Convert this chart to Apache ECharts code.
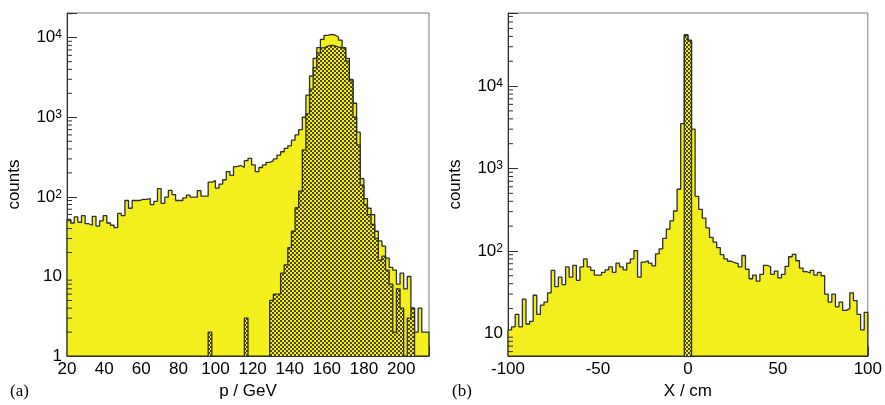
<!DOCTYPE html>
<html>
<head>
<meta charset="utf-8">
<script src="https://cdn.jsdelivr.net/npm/echarts@6/dist/echarts.min.js"></script>
<style>
  html, body { margin: 0; padding: 0; background: #fff; }
  #chart { width: 885px; height: 405px; }
</style>
</head>
<body>
<div id="chart"></div>
<script>
var FONT = '"Liberation Sans", Arial, Helvetica, sans-serif';
var SERIF = '"Liberation Serif", "Times New Roman", serif';
var INK = '#2e2e2e';
var YELLOW = '#f3ee1c';

// (a) momentum: 100 bins, 20..215 GeV
var P_RANGE = [20, 215];
var pAll = [
  52, 47, 56, 48, 58, 46, 44, 57, 43, 50,
  58, 47, 44, 41, 62, 58, 90, 72, 90, 90,
  93, 93, 95, 80, 88, 127, 83, 99, 121, 107,
  90, 90, 97, 105, 99, 99, 120, 102, 102, 153,
  160, 129, 145, 164, 208, 186, 240, 248, 235, 285,
  305, 252, 208, 234, 252, 272, 283, 300, 335, 369,
  406, 438, 515, 600, 700, 1000, 1900, 3300, 5500, 7500,
  9500, 10700, 11000, 10800, 10200, 9300, 7500, 5500, 3000, 1500,
  650, 170, 95, 72, 60, 37, 28, 24, 17, 13,
  12, 8, 11, 7, 10, 4, 2, 4, 2, 2
];
var pSel = [
  0, 0, 0, 0, 0, 0, 0, 0, 0, 0,
  0, 0, 0, 0, 0, 0, 0, 0, 0, 0,
  0, 0, 0, 0, 0, 0, 0, 0, 0, 0,
  0, 0, 0, 0, 0, 0, 0, 0, 0, 2,
  0, 0, 0, 0, 0, 0, 0, 0, 0, 3,
  0, 0, 0, 0, 0, 0, 5, 6, 6, 11,
  14, 23, 37, 73, 118, 390, 1100, 2260, 4200, 6450,
  7450, 7800, 8000, 7900, 7600, 7500, 7090, 5080, 2870, 1000,
  450, 140, 80, 60, 45, 30, 16, 18, 12, 8,
  2, 7, 4, 0, 3, 4, 0, 0, 0, 0
];

// (b) position: 100 bins, -100..100 cm
var X_RANGE = [-100, 100];
var xAll = [
  11, 12, 17, 12, 26, 13, 14, 29, 17, 22,
  24, 31, 58, 37, 48, 39, 64, 48, 67, 44,
  64, 80, 64, 58, 51, 51, 55, 59, 64, 55,
  71, 64, 59, 71, 80, 101, 48, 73, 76, 71,
  66, 92, 106, 142, 184, 231, 305, 560, 3500, 42000,
  36000, 3000, 460, 320, 250, 190, 146, 128, 110, 90,
  80, 75, 72, 70, 64, 88, 60, 46, 51, 43,
  52, 67, 64, 52, 57, 47, 52, 65, 85, 91,
  76, 62, 56, 54, 58, 51, 55, 50, 30, 24,
  30, 21, 24, 19, 20, 31, 25, 17, 11, 18
];
var xSel = [
  0, 0, 0, 0, 0, 0, 0, 0, 0, 0,
  0, 0, 0, 0, 0, 0, 0, 0, 0, 0,
  0, 0, 0, 0, 0, 0, 0, 0, 0, 0,
  0, 0, 0, 0, 0, 0, 0, 0, 0, 0,
  0, 0, 0, 0, 0, 0, 0, 0, 0, 41000,
  35000, 0, 0, 0, 0, 0, 0, 0, 0, 0,
  0, 0, 0, 0, 0, 0, 0, 0, 0, 0,
  0, 0, 0, 0, 0, 0, 0, 0, 0, 0,
  0, 0, 0, 0, 0, 0, 0, 0, 0, 0,
  0, 0, 0, 0, 0, 0, 0, 0, 0, 0
];

var yRangeA = [1, 20400];
var yRangeB = [5.3, 77000];

// bin edges -> points for a step line ('end'), empty bins sit on the axis floor
function stepData(range, counts, floor) {
  var n = counts.length, w = (range[1] - range[0]) / n;
  var pts = [[range[0], floor]];
  for (var i = 0; i < n; i++) pts.push([range[0] + w * i, Math.max(counts[i], floor)]);
  pts.push([range[1], Math.max(counts[n - 1], floor)]);
  pts.push([range[1], floor]);
  return pts;
}

function logMinors(lo, hi) {
  var out = [];
  for (var d = Math.floor(Math.log10(lo)); Math.pow(10, d) < hi; d++) {
    for (var m = 2; m <= 9; m++) {
      var v = m * Math.pow(10, d);
      if (v > lo && v < hi) out.push(v);
    }
  }
  return out;
}

// checkered fill for the selected sample
var pat = document.createElement('canvas');
pat.width = 4; pat.height = 4;
var g = pat.getContext('2d');
g.fillStyle = YELLOW; g.fillRect(0, 0, 4, 4);
g.fillStyle = '#4a4718';
g.fillRect(0, 0, 2, 2); g.fillRect(2, 2, 2, 2);
var HATCH = { image: pat, repeat: 'repeat' };

function powLabel(v) {
  var e = Math.round(Math.log10(v));
  if (Math.abs(Math.log10(v) - e) > 1e-6) return '';
  if (e === 0) return '{b|1}';
  if (e === 1) return '{b|10}';
  return '{b|10}{s|' + e + '}';
}

function xAxisCfg(idx, range, interval, split, name, showMax) {
  return {
    type: 'value', gridIndex: idx, min: range[0], max: range[1], interval: interval,
    name: name, nameLocation: 'middle', nameGap: 26,
    nameTextStyle: { fontSize: 17, fontFamily: FONT, color: '#000' },
    axisLine: { onZero: false, lineStyle: { color: INK, width: 1 } },
    axisTick: { inside: true, length: 10, lineStyle: { color: INK, width: 1 } },
    minorTick: { show: true, splitNumber: split, length: 5, lineStyle: { color: INK, width: 1 } },
    axisLabel: { fontSize: 17, fontFamily: FONT, color: '#000', margin: 5, showMaxLabel: showMax },
    splitLine: { show: false }
  };
}

function yAxisCfg(idx, range) {
  return {
    type: 'log', logBase: 10, gridIndex: idx, min: range[0], max: range[1],
    name: 'counts', nameLocation: 'middle', nameGap: 44,
    nameTextStyle: { fontSize: 17, fontFamily: FONT, color: '#000' },
    axisLine: { onZero: false, lineStyle: { color: INK, width: 1 } },
    axisTick: { inside: true, length: 10, lineStyle: { color: INK, width: 1 } },
    axisLabel: {
      margin: 5, formatter: powLabel,
      rich: {
        b: { fontSize: 17, fontFamily: FONT, color: '#000', lineHeight: 17 },
        s: { fontSize: 12, fontFamily: FONT, color: '#000', verticalAlign: 'top' }
      }
    },
    splitLine: { show: false }
  };
}

function histSeries(idx, range, counts, floor, fill, z) {
  return {
    type: 'line', xAxisIndex: idx, yAxisIndex: idx, step: 'end', symbol: 'none',
    z: z, silent: true,
    lineStyle: { color: INK, width: 1.3 },
    areaStyle: { color: fill, opacity: 1, origin: 'start' },
    data: stepData(range, counts, floor)
  };
}

function minorTickSeries(idx, x0, values) {
  return {
    type: 'custom', xAxisIndex: idx, yAxisIndex: idx, silent: true, z: 10,
    data: values.map(function (v) { return [x0, v]; }),
    renderItem: function (params, api) {
      var p = api.coord([api.value(0), api.value(1)]);
      return {
        type: 'line',
        shape: { x1: p[0], y1: p[1], x2: p[0] + 5, y2: p[1] },
        style: { stroke: INK, lineWidth: 1 }
      };
    }
  };
}

var chart = echarts.init(document.getElementById('chart'));
chart.setOption({
  animation: false,
  textStyle: { fontFamily: FONT },
  grid: [
    { left: 67, top: 13, width: 362, height: 347, show: true, borderColor: '#7a7a7a', borderWidth: 1 },
    { left: 508, top: 13, width: 361, height: 347, show: true, borderColor: '#7a7a7a', borderWidth: 1 }
  ],
  xAxis: [
    xAxisCfg(0, P_RANGE, 20, 4, 'p / GeV', false),
    xAxisCfg(1, X_RANGE, 50, 5, 'X / cm', true)
  ],
  yAxis: [yAxisCfg(0, yRangeA), yAxisCfg(1, yRangeB)],
  graphic: [
    { type: 'text', left: 10, top: 383, style: { text: '(a)', fontSize: 17, fontFamily: SERIF, fill: '#000' } },
    { type: 'text', left: 452, top: 383, style: { text: '(b)', fontSize: 17, fontFamily: SERIF, fill: '#000' } }
  ],
  series: [
    histSeries(0, P_RANGE, pAll, yRangeA[0], YELLOW, 2),
    histSeries(0, P_RANGE, pSel, yRangeA[0], HATCH, 3),
    histSeries(1, X_RANGE, xAll, yRangeB[0], YELLOW, 2),
    histSeries(1, X_RANGE, xSel, yRangeB[0], HATCH, 3),
    minorTickSeries(0, P_RANGE[0], logMinors(yRangeA[0], yRangeA[1])),
    minorTickSeries(1, X_RANGE[0], logMinors(yRangeB[0], yRangeB[1]))
  ]
});
</script>
</body>
</html>
